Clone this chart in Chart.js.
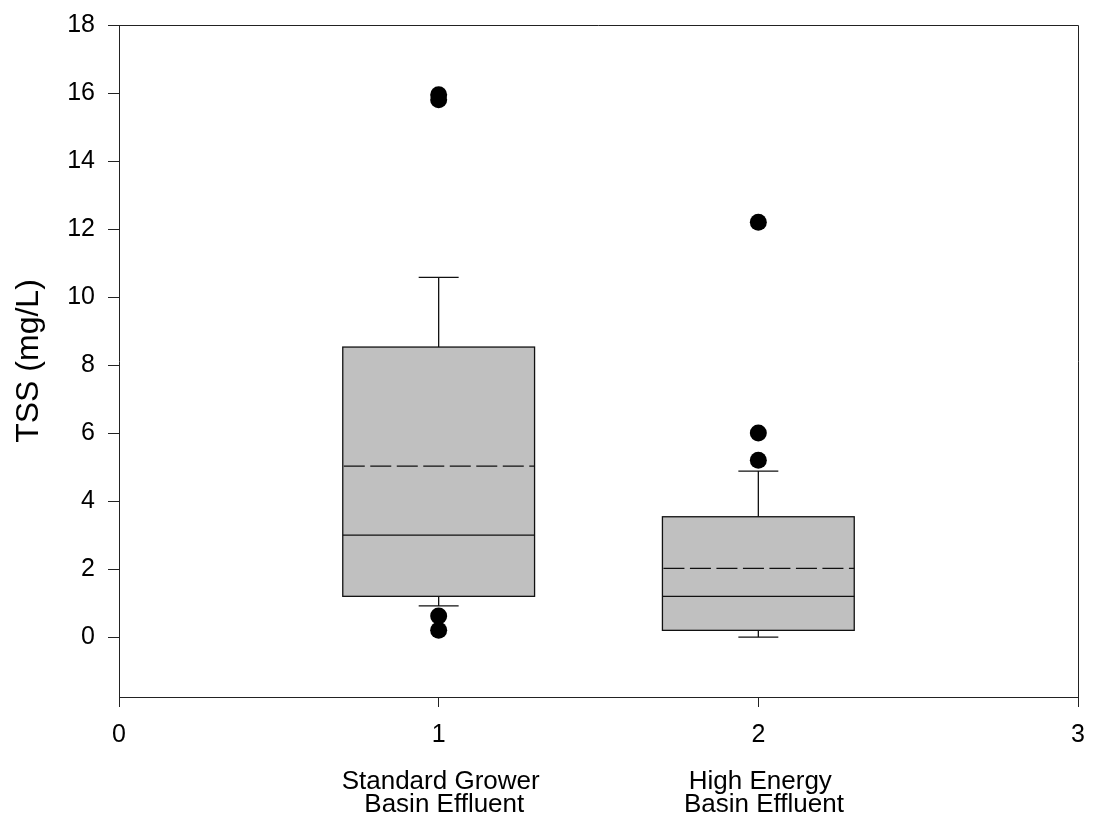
<!DOCTYPE html>
<html>
<head>
<meta charset="utf-8">
<script src="https://cdn.jsdelivr.net/npm/chart.js@4/dist/chart.umd.min.js"></script>
<style>
  html, body { margin: 0; padding: 0; background: #fff; }
  #wrap { width: 1094px; height: 829px; position: relative; }
</style>
</head>
<body>
<div id="wrap"><canvas id="c" width="1094" height="829"></canvas></div>
<script>
// ---- data ----
const categoryLabels = [['Standard Grower', ' Basin Effluent'], ['High Energy', ' Basin Effluent']];
const positions = [1, 2];
const q1 = [1.2, 0.2];
const q3 = [8.53, 3.54];
const medians = [3.0, 1.2];
const means = [5.03, 2.02];
const whiskerLow = [0.92, 0.0];
const whiskerHigh = [10.58, 4.88];
const outliers = [[15.95, 15.8, 0.62, 0.2], [12.2, 6.0, 5.2]];
const yTicks = [0, 2, 4, 6, 8, 10, 12, 14, 16, 18];
const xTicks = [0, 1, 2, 3];
const yTitle = 'TSS (mg/L)';

// ---- styles ----
const BOX_W = 0.6, CAP_W = 0.125;
const FONT = '"Liberation Sans", Arial, sans-serif';

const outlierPoints = [];
positions.forEach((p, i) => outliers[i].forEach(v => outlierPoints.push({x: p, y: v})));

const boxPlugin = {
  id: 'boxes',
  beforeDatasetsDraw(chart) {
    const {ctx, scales: {x, y}} = chart;
    ctx.save();
    positions.forEach((p, i) => {
      const xl = x.getPixelForValue(p - BOX_W / 2), xr = x.getPixelForValue(p + BOX_W / 2);
      const xc = x.getPixelForValue(p);
      const cl = x.getPixelForValue(p - CAP_W / 2), cr = x.getPixelForValue(p + CAP_W / 2);
      const yq1 = y.getPixelForValue(q1[i]), yq3 = y.getPixelForValue(q3[i]);
      ctx.lineWidth = 1.3;
      ctx.strokeStyle = '#111';
      // whiskers
      ctx.beginPath();
      ctx.moveTo(xc, yq3); ctx.lineTo(xc, y.getPixelForValue(whiskerHigh[i]));
      ctx.moveTo(cl, y.getPixelForValue(whiskerHigh[i])); ctx.lineTo(cr, y.getPixelForValue(whiskerHigh[i]));
      ctx.moveTo(xc, yq1); ctx.lineTo(xc, y.getPixelForValue(whiskerLow[i]));
      ctx.moveTo(cl, y.getPixelForValue(whiskerLow[i])); ctx.lineTo(cr, y.getPixelForValue(whiskerLow[i]));
      ctx.stroke();
      // box
      ctx.fillStyle = '#c0c0c0';
      ctx.fillRect(xl, yq3, xr - xl, yq1 - yq3);
      ctx.strokeRect(xl, yq3, xr - xl, yq1 - yq3);
      // median
      ctx.beginPath();
      ctx.moveTo(xl, y.getPixelForValue(medians[i])); ctx.lineTo(xr, y.getPixelForValue(medians[i]));
      ctx.stroke();
      // mean
      ctx.setLineDash([21, 5.5]);
      ctx.beginPath();
      ctx.moveTo(xl + 1, y.getPixelForValue(means[i])); ctx.lineTo(xr, y.getPixelForValue(means[i]));
      ctx.stroke();
      ctx.setLineDash([]);
    });
    ctx.restore();
  },
  afterDraw(chart) {
    const {ctx, chartArea: a, scales: {x}} = chart;
    ctx.save();
    ctx.strokeStyle = '#222';
    ctx.lineWidth = 1;
    ctx.beginPath();
    ctx.moveTo(a.left, a.top + 0.5); ctx.lineTo(a.right + 0.5, a.top + 0.5);
    ctx.lineTo(a.right + 0.5, a.bottom);
    ctx.stroke();
    // category labels
    ctx.fillStyle = '#000';
    ctx.font = '26px ' + FONT;
    ctx.textAlign = 'center';
    ctx.textBaseline = 'middle';
    positions.forEach((p, i) => {
      const xc = x.getPixelForValue(p);
      categoryLabels[i].forEach((line, j) => {
        ctx.fillText(line, xc + 2, 782 + j * 23);
      });
    });
    ctx.restore();
  }
};

new Chart(document.getElementById('c'), {
  type: 'scatter',
  data: {
    datasets: [{
      data: outlierPoints,
      pointRadius: 8.5,
      pointHoverRadius: 8.5,
      backgroundColor: '#000',
      borderWidth: 0
    }]
  },
  options: {
    responsive: false,
    animation: false,
    devicePixelRatio: 1,
    layout: { padding: { top: 25, right: 16, left: 0, bottom: 0 } },
    plugins: { legend: { display: false }, tooltip: { enabled: false } },
    scales: {
      x: {
        type: 'linear', min: 0, max: 3,
        afterBuildTicks(s) { s.ticks = xTicks.map(v => ({value: v})); },
        afterFit(s) { s.height = 132; s.paddingLeft = 0; s.paddingRight = 0; },
        grid: { drawOnChartArea: false, drawTicks: true, tickLength: 10, color: '#222', tickWidth: 1 },
        border: { display: true, color: '#222', width: 1 },
        ticks: { color: '#000', font: { size: 25, family: FONT }, padding: 13, maxRotation: 0 }
      },
      y: {
        type: 'linear', min: -1.76, max: 18,
        afterBuildTicks(s) { s.ticks = yTicks.map(v => ({value: v})); },
        afterFit(s) { s.width = 119; s.paddingTop = 0; s.paddingBottom = 0; },
        grid: { drawOnChartArea: false, drawTicks: true, tickLength: 11, color: '#222', tickWidth: 1 },
        border: { display: true, color: '#222', width: 1 },
        ticks: { color: '#000', font: { size: 25, family: FONT }, padding: 13 },
        title: { display: true, text: yTitle, color: '#000', font: { size: 32, family: FONT }, padding: { top: 10, bottom: 0 } }
      }
    }
  },
  plugins: [boxPlugin]
});
</script>
</body>
</html>
